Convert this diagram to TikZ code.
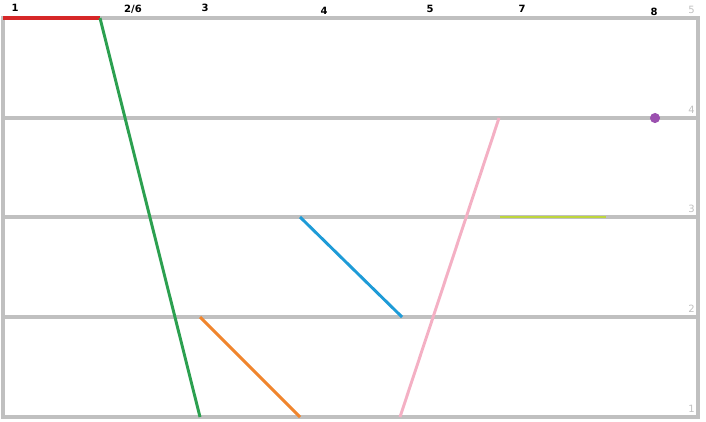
\documentclass[tikz,border=0pt]{standalone}
\usepackage{fontspec}
\setmainfont{DejaVu Sans}
\usepackage{tikz}
\usetikzlibrary{positioning}

\definecolor{gridgray}{RGB}{192,192,192}
\definecolor{segred}{RGB}{214,39,40}
\definecolor{seggreen}{RGB}{44,160,80}
\definecolor{segorange}{RGB}{240,133,45}
\definecolor{segblue}{RGB}{30,155,215}
\definecolor{segpink}{RGB}{244,176,196}
\definecolor{seglime}{RGB}{190,214,60}
\definecolor{segpurple}{RGB}{155,80,175}

\tikzset{
  gridline/.style={gridgray, line width=3pt},
  seg/.style={line width=2.2pt},
  toplabel/.style={font=\fontsize{7.5}{9}\selectfont\bfseries, inner sep=0pt},
  levellabel/.style={font=\fontsize{7.5}{9}\selectfont, text=gridgray, inner sep=0pt, anchor=east}
}

\begin{document}
\begin{tikzpicture}[x=0.75pt, y=-0.75pt]
  \useasboundingbox (0,0) rectangle (706,421);

  % ---- levels (y positions in px) ----
  \foreach \lv/\y in {5/18, 4/118, 3/217, 2/317, 1/417} {
    \coordinate (L\lv) at (3,\y);
    \coordinate (R\lv) at (698,\y);
    \draw[gridline] (L\lv) -- (R\lv);
    \node[levellabel] (lab\lv) at (695,\y-8) {\lv};
  }
  \draw[gridline, line cap=rect] (L5) -- (L1);
  \draw[gridline, line cap=rect] (R5) -- (R1);

  % ---- segment end points ----
  \coordinate (a1) at (3,18);    \coordinate (a2) at (100,18);
  \coordinate (b1) at (100,18);  \coordinate (b2) at (200,417);
  \coordinate (c1) at (200,317); \coordinate (c2) at (300,417);
  \coordinate (d1) at (300,217); \coordinate (d2) at (402,317);
  \coordinate (e1) at (400,417); \coordinate (e2) at (499,118);
  \coordinate (f1) at (500,217); \coordinate (f2) at (606,217);
  \coordinate (g)  at (655,118);

  % ---- segments ----
  \draw[seg, segred, line width=3.5pt] (a1) -- (a2);
  \draw[seg, seggreen] (b1) -- (b2);
  \draw[seg, segorange] (c1) -- (c2);
  \draw[seg, segblue] (d1) -- (d2);
  \draw[seg, segpink] (e1) -- (e2);
  \draw[seg, seglime] (f1) -- (f2);
  \fill[segpurple] (g) circle (3.8pt);

  % ---- top labels ----
  \node[toplabel] (n1) at (15,8) {1};
  \node[toplabel] (n26) at (133,9) {2/6};
  \node[toplabel] (n3) at (205,8) {3};
  \node[toplabel] (n4) at (324,11) {4};
  \node[toplabel] (n5) at (430,9) {5};
  \node[toplabel] (n7) at (522,9) {7};
  \node[toplabel] (n8) at (654,12) {8};
\end{tikzpicture}
\end{document}
